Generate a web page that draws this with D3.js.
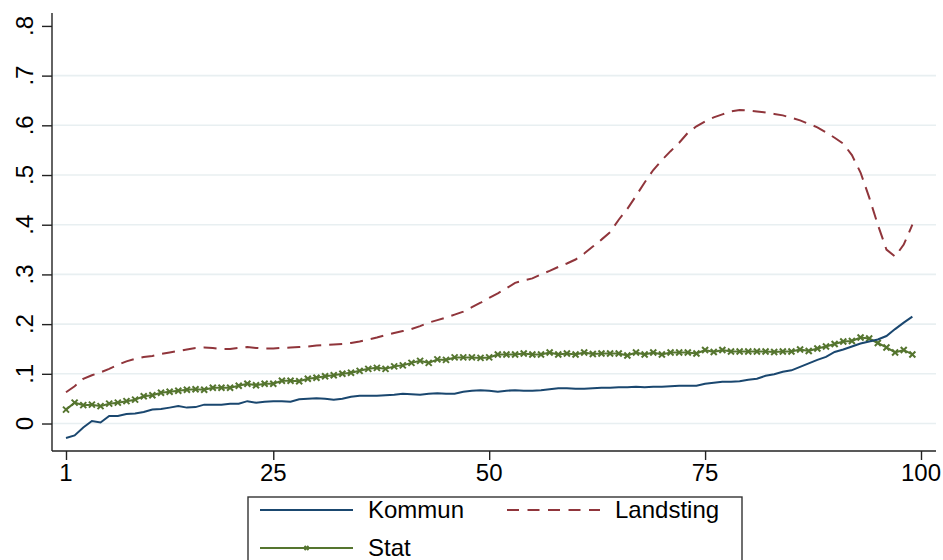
<!DOCTYPE html>
<html>
<head>
<meta charset="utf-8">
<script src="https://cdn.jsdelivr.net/npm/d3@7"></script>
<style>
  body { margin: 0; background: #fff; }
  text { font-family: "Liberation Sans", Arial, Helvetica, sans-serif; fill: #000; }
</style>
</head>
<body>
<div id="chart"></div>
<script>
// ***Step 1: data***

var percentiles = d3.range(1, 100);

var kommun = [
  -0.029, -0.024, -0.008, 0.005, 0.002, 0.015, 0.015, 0.019, 0.020, 0.023,
  0.028, 0.029, 0.032, 0.035, 0.032, 0.033, 0.038, 0.038, 0.038, 0.040,
  0.040, 0.045, 0.042, 0.044, 0.045, 0.045, 0.044, 0.049, 0.050, 0.051,
  0.050, 0.048, 0.050, 0.054, 0.056, 0.056, 0.056, 0.057, 0.058, 0.060,
  0.059, 0.058, 0.060, 0.061, 0.060, 0.060, 0.064, 0.066, 0.067, 0.066,
  0.064, 0.066, 0.067, 0.066, 0.066, 0.067, 0.069, 0.071, 0.071, 0.070,
  0.070, 0.071, 0.072, 0.072, 0.073, 0.073, 0.074, 0.073, 0.074, 0.074,
  0.075, 0.076, 0.076, 0.076, 0.080, 0.082, 0.084, 0.084, 0.085, 0.088,
  0.090, 0.096, 0.099, 0.104, 0.107, 0.114, 0.121, 0.128, 0.134, 0.144,
  0.149, 0.155, 0.161, 0.165, 0.169, 0.176, 0.190, 0.203, 0.215
];

var landsting = [
  0.063, 0.075, 0.090, 0.097, 0.103, 0.110, 0.118, 0.125, 0.130, 0.134,
  0.136, 0.140, 0.143, 0.146, 0.149, 0.152, 0.153, 0.152, 0.150, 0.150,
  0.152, 0.154, 0.152, 0.151, 0.151, 0.152, 0.153, 0.154, 0.155, 0.157,
  0.158, 0.159, 0.160, 0.162, 0.165, 0.169, 0.173, 0.178, 0.182, 0.186,
  0.190, 0.196, 0.203, 0.208, 0.213, 0.219, 0.225, 0.234, 0.243, 0.253,
  0.262, 0.272, 0.283, 0.288, 0.292, 0.300, 0.307, 0.315, 0.322, 0.330,
  0.342, 0.356, 0.370, 0.385, 0.410, 0.432, 0.458, 0.485, 0.510, 0.530,
  0.548, 0.565, 0.585, 0.598, 0.608, 0.616, 0.622, 0.628, 0.631, 0.630,
  0.628, 0.626, 0.623, 0.620, 0.615, 0.610, 0.603, 0.596, 0.586, 0.575,
  0.563, 0.540, 0.505, 0.455, 0.400, 0.350, 0.336, 0.360, 0.400
];

var stat = [
  0.028, 0.042, 0.037, 0.038, 0.035, 0.040, 0.042, 0.045, 0.048, 0.055,
  0.057, 0.062, 0.064, 0.066, 0.068, 0.069, 0.068, 0.072, 0.072, 0.072,
  0.076, 0.080, 0.077, 0.080, 0.080, 0.086, 0.086, 0.085, 0.090, 0.092,
  0.095, 0.097, 0.100, 0.102, 0.106, 0.110, 0.112, 0.110, 0.115, 0.117,
  0.122, 0.126, 0.122, 0.129, 0.128, 0.133, 0.133, 0.133, 0.132, 0.133,
  0.139, 0.139, 0.139, 0.141, 0.139, 0.139, 0.143, 0.139, 0.141, 0.139,
  0.143, 0.140, 0.141, 0.141, 0.141, 0.137, 0.143, 0.139, 0.143, 0.139,
  0.143, 0.143, 0.143, 0.141, 0.148, 0.144, 0.148, 0.145, 0.145, 0.145,
  0.145, 0.145, 0.144, 0.145, 0.145, 0.149, 0.146, 0.151, 0.155, 0.160,
  0.165, 0.166, 0.173, 0.171, 0.162, 0.153, 0.143, 0.148, 0.139
];

var xTicks = [1, 25, 50, 75, 100];
var yTicks = [0, 0.1, 0.2, 0.3, 0.4, 0.5, 0.6, 0.7, 0.8];
var seriesNames = ["Kommun", "Landsting", "Stat"];

// ***Step 2: svg set up***

var svgWidth = 943;
var svgHeight = 560;

var plot = { left: 52, right: 936, top: 13, bottom: 451 };

var colors = {
  Kommun: "#1a476f",
  Landsting: "#90353b",
  Stat: "#55752f"
};

var svg = d3
  .select("#chart")
  .append("svg")
  .attr("width", svgWidth)
  .attr("height", svgHeight);

svg.append("rect")
  .attr("width", svgWidth)
  .attr("height", svgHeight)
  .attr("fill", "#fff");

// scales
var xLinearScale = d3.scaleLinear()
  .domain([-0.621, 101.737])
  .range([plot.left, plot.right]);

var yLinearScale = d3.scaleLinear()
  .domain([-0.0553, 0.826])
  .range([plot.bottom, plot.top]);

// stata style labels: 0, .1, .2 ...
var yFormat = function(d) {
  if (d === 0) return "0";
  return d3.format(".1f")(d).replace(/^0/, "");
};

// gridlines (none at .8, like the original)
svg.append("g")
  .selectAll("line")
  .data(yTicks.filter(d => d < 0.75))
  .enter()
  .append("line")
  .attr("x1", plot.left)
  .attr("x2", plot.right)
  .attr("y1", d => yLinearScale(d))
  .attr("y2", d => yLinearScale(d))
  .attr("stroke", "#e8eff1")
  .attr("stroke-width", 1.6);

// y axis
var yAxis = svg.append("g")
  .attr("transform", `translate(${plot.left}, 0)`)
  .call(d3.axisLeft(yLinearScale).tickValues(yTicks).tickSize(10).tickFormat(""));

yAxis.select(".domain")
  .attr("d", `M0,${plot.top}V${plot.bottom}`);

yAxis.selectAll("line, path")
  .attr("stroke", "#222")
  .attr("stroke-width", 1.4);

svg.append("g")
  .selectAll("text")
  .data(yTicks)
  .enter()
  .append("text")
  .attr("transform", d => `translate(33, ${yLinearScale(d)}) rotate(-90)`)
  .attr("text-anchor", "middle")
  .style("font-size", "24px")
  .text(yFormat);

// x axis
var xAxis = svg.append("g")
  .attr("transform", `translate(0, ${plot.bottom})`)
  .call(d3.axisBottom(xLinearScale).tickValues(xTicks).tickSize(9).tickFormat(""));

xAxis.select(".domain")
  .attr("d", `M${plot.left},0H${plot.right}`);

xAxis.selectAll("line, path")
  .attr("stroke", "#222")
  .attr("stroke-width", 1.4);

svg.append("g")
  .selectAll("text")
  .data(xTicks)
  .enter()
  .append("text")
  .attr("x", d => xLinearScale(d))
  .attr("y", 481)
  .attr("text-anchor", "middle")
  .style("font-size", "24px")
  .text(d => d);

// ***Step 3: the lines***

var lineGen = function(values) {
  return d3.line()
    .x((d, i) => xLinearScale(percentiles[i]))
    .y(d => yLinearScale(d))(values);
};

svg.append("path")
  .attr("d", lineGen(landsting))
  .attr("fill", "none")
  .attr("stroke", colors.Landsting)
  .attr("stroke-width", 2)
  .attr("stroke-dasharray", "13,8");

svg.append("path")
  .attr("d", lineGen(stat))
  .attr("fill", "none")
  .attr("stroke", colors.Stat)
  .attr("stroke-width", 2);

// x markers on Stat
var cross = function(sel, size) {
  sel.append("path")
    .attr("d", `M${-size},${-size}L${size},${size}M${-size},${size}L${size},${-size}`)
    .attr("stroke", colors.Stat)
    .attr("stroke-width", 2)
    .attr("fill", "none");
};

svg.append("g")
  .selectAll("g")
  .data(stat)
  .enter()
  .append("g")
  .attr("transform", (d, i) => `translate(${xLinearScale(percentiles[i])}, ${yLinearScale(d)})`)
  .call(cross, 3);

svg.append("path")
  .attr("d", lineGen(kommun))
  .attr("fill", "none")
  .attr("stroke", colors.Kommun)
  .attr("stroke-width", 2);

// ***Step 4: legend (cut by the bottom edge)***

var legend = svg.append("g");

legend.append("rect")
  .attr("x", 248)
  .attr("y", 497)
  .attr("width", 494)
  .attr("height", 90)
  .attr("fill", "#fff")
  .attr("stroke", "#333")
  .attr("stroke-width", 1.4);

var legendItems = [
  { name: seriesNames[0], x: 260, y: 510, dash: null },
  { name: seriesNames[1], x: 507, y: 510, dash: "12,8.5" },
  { name: seriesNames[2], x: 260, y: 548, dash: null }
];

legendItems.forEach(function(item) {
  legend.append("line")
    .attr("x1", item.x)
    .attr("x2", item.x + 93)
    .attr("y1", item.y)
    .attr("y2", item.y)
    .attr("stroke", colors[item.name])
    .attr("stroke-width", 2)
    .attr("stroke-dasharray", item.dash);

  legend.append("text")
    .attr("x", item.x + 108)
    .attr("y", item.y + 8)
    .style("font-size", "24px")
    .text(item.name);
});

legend.append("g")
  .attr("transform", "translate(306.5, 548)")
  .call(cross, 2);
</script>
</body>
</html>
